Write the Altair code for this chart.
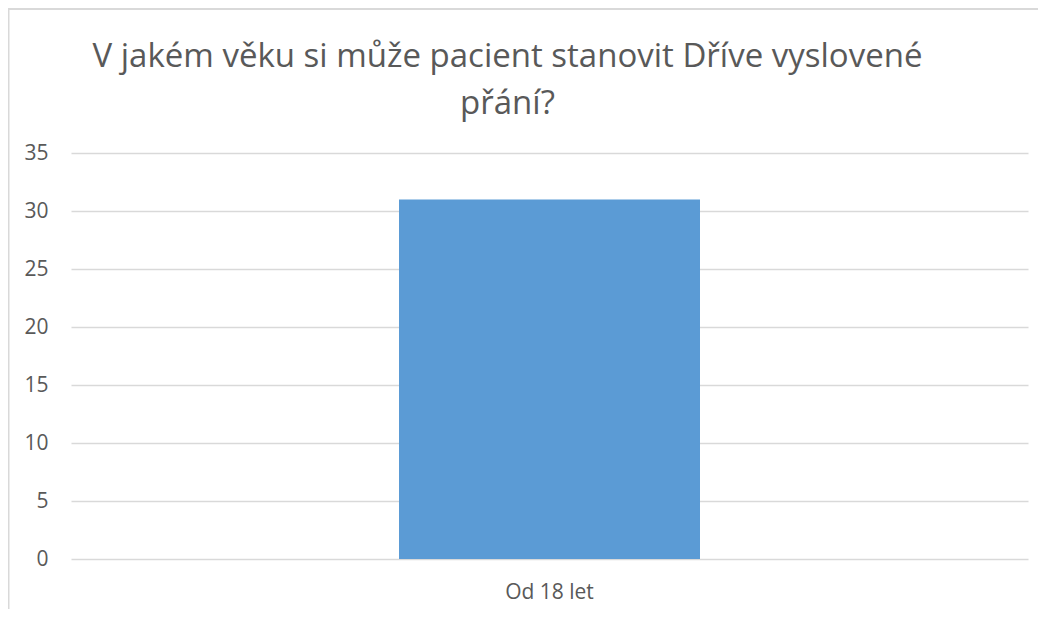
import altair as alt
import pandas as pd

categories = ["Od 18 let"]
values = [31]

df = pd.DataFrame({"kategorie": categories, "pocet": values})

W, H = 957, 406
PAD_L, PAD_T = 63, 145

bars = alt.Chart(df).mark_bar(color="#5B9BD5", size=301).encode(
    x=alt.X("kategorie:N", title=None,
            axis=alt.Axis(labelAngle=0, labelFont="Open Sans", labelFontSize=21,
                          labelColor="#595959", ticks=False, domain=False,
                          labelPadding=22)),
    y=alt.Y("pocet:Q", title=None,
            scale=alt.Scale(domain=[0, 35]),
            axis=alt.Axis(values=[0, 5, 10, 15, 20, 25, 30, 35], labelFont="Open Sans",
                          labelFontSize=21, labelColor="#595959", ticks=False,
                          domain=False, gridColor="#d9d9d9", gridWidth=1.5,
                          labelPadding=23)),
)

border_left = alt.Chart(df).mark_rule(color="#d9d9d9", strokeWidth=2).encode(
    x=alt.value(-PAD_L + 0.5), y=alt.value(-PAD_T), y2=alt.value(H + 60)
)
border_top = alt.Chart(df).mark_rule(color="#d9d9d9", strokeWidth=2).encode(
    x=alt.value(-PAD_L), x2=alt.value(W + 20), y=alt.value(-PAD_T + 1)
)

chart = alt.layer(border_left, border_top, bars).properties(
    width=W, height=H,
    autosize=alt.AutoSizeParams(type="none"),
    padding={"left": PAD_L, "top": PAD_T, "right": 10, "bottom": 50},
    title=alt.TitleParams(
        ["V jakém věku si může pacient stanovit Dříve vyslovené", "přání?"],
        font="Open Sans", fontSize=33, fontWeight="normal", color="#595959",
        anchor="middle", lineHeight=47, offset=-140, baseline="alphabetic", dx=-42,
    ),
).configure_view(stroke=None)

chart.save("out.html", embed_options={"renderer": "svg", "actions": False})
